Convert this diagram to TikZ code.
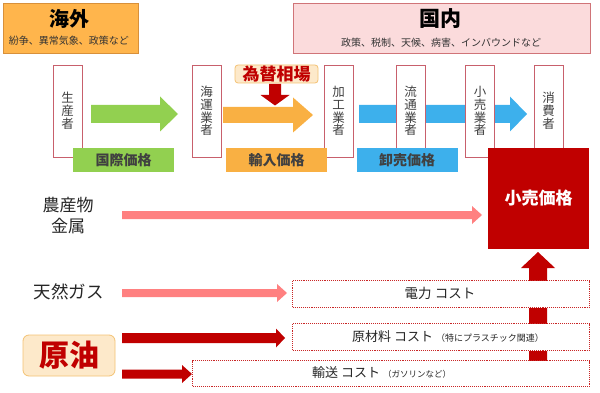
\documentclass[tikz,border=0pt]{standalone}
\usepackage{fontspec}
\setmainfont{Noto Sans CJK JP}
\definecolor{hdorange}{HTML}{FFB54C}
\definecolor{hdorangeb}{HTML}{D8903A}
\definecolor{hdpink}{HTML}{FBDBDC}
\definecolor{hdpinkb}{HTML}{D07478}
\definecolor{agreen}{HTML}{92D050}
\definecolor{aorange}{HTML}{F9B043}
\definecolor{ablue}{HTML}{3DB0EC}
\definecolor{dred}{HTML}{C00000}
\definecolor{apink}{HTML}{FF8080}
\definecolor{cream}{HTML}{FDE9CA}
\definecolor{creamb}{HTML}{F3C273}
\definecolor{actb}{HTML}{C8606C}
\definecolor{txt}{HTML}{404040}
\newcommand{\harr}[7]{\fill[#1] (#2,#4-#5) -- (#3-#7,#4-#5) -- (#3-#7,#4-#6) -- (#3,#4) -- (#3-#7,#4+#6) -- (#3-#7,#4+#5) -- (#2,#4+#5) -- cycle;}
\tikzset{
  actor/.style={draw=actb, line width=0.8pt, fill=white, minimum width=29pt, minimum height=92pt, inner sep=0pt, text=txt, font=\fontsize{12.5}{12.8}\selectfont, align=center},
  pricelabel/.style={minimum width=101pt, minimum height=24pt, inner sep=0pt, text=txt, font=\fontsize{14}{14}\selectfont\bfseries},
  costbox/.style={draw=dred!85, densely dotted, line width=1.1pt, fill=white, minimum height=27pt, inner sep=0pt, anchor=north west},
  costtxt/.style={text=black!85, font=\fontsize{13}{13}\selectfont, inner sep=0pt},
  lefttxt/.style={text=black!85, font=\fontsize{17}{21.5}\selectfont, align=center, inner sep=0pt}
}
\begin{document}
\begin{tikzpicture}[x=1pt,y=-1pt]
\useasboundingbox (0,0) rectangle (600,393);
% header boxes
\node[draw=hdorangeb, fill=hdorange, line width=0.8pt, minimum width=135pt, minimum height=50pt, anchor=north west, inner sep=0pt] (kaigai) at (3,3) {};
\node[font=\fontsize{20}{20}\selectfont\bfseries, text=black] (kaigaiT) at (69,19) {海外};
\node[font=\fontsize{10}{10}\selectfont, text=black!80] (kaigaiS) at (69,40.5) {紛争、異常気象、政策など};
\node[draw=hdpinkb, fill=hdpink, line width=0.8pt, minimum width=297pt, minimum height=50pt, anchor=north west, inner sep=0pt] (kokunai) at (293,3) {};
\node[font=\fontsize{21}{21}\selectfont\bfseries, text=black] (kokunaiT) at (440,19) {国内};
\node[font=\fontsize{10}{10}\selectfont, text=black!80] (kokunaiS) at (441,42.5) {政策、税制、天候、病害、インバウンドなど};
% big arrows
\harr{agreen}{91}{178}{114}{9}{17.5}{18}
\harr{aorange}{223}{313}{115}{8}{17.5}{20}
\harr{ablue}{359}{527}{114}{9}{17.5}{17}
% actors
\node[actor] (seisan) at (67.5,111) {生\\産\\者};
\node[actor] (kaiun) at (206.5,111) {海\\運\\業\\者};
\node[actor] (kakou) at (338.5,111) {加\\工\\業\\者};
\node[actor] (ryutsu) at (410.5,111) {流\\通\\業\\者};
\node[actor] (kouri) at (480,111) {小\\売\\業\\者};
\node[actor] (shohi) at (548.5,111) {消\\費\\者};
% price labels
\node[pricelabel, fill=agreen] (kokusai) at (123.5,160) {国際価格};
\node[pricelabel, fill=aorange] (yunyu) at (276.5,160) {輸入価格};
\node[pricelabel, fill=ablue] (oroshi) at (407,160) {卸売価格};
% exchange rate
\node[draw=creamb, fill=cream, rounded corners=3pt, line width=0.8pt, minimum width=83pt, minimum height=18pt, inner sep=0pt, text=dred, font=\fontsize{17}{17}\selectfont\bfseries] (kawase) at (276.5,74) {為替相場};
\fill[dred] (269,84) -- (281,84) -- (281,95) -- (289.5,95) -- (275,105.5) -- (260.5,95) -- (269,95) -- cycle;
% retail price
\node[fill=dred, minimum width=101pt, minimum height=101pt, inner sep=0pt, anchor=north west] (kourikakaku) at (488,148) {};
\node[text=white, font=\fontsize{17}{17}\selectfont\bfseries] (kourikakakuT) at (538.5,198) {小売価格};
% up arrow
\fill[dred] (529,362) -- (529,268) -- (521,268) -- (538,252) -- (555,268) -- (547,268) -- (547,362) -- cycle;
% left texts
\node[lefttxt] (nousan) at (68,215.5) {農産物\\金属};
\node[lefttxt, font=\fontsize{17.5}{17.5}\selectfont] (tennen) at (69,292) {天然ガス};
\node[draw=creamb, fill=cream, rounded corners=6pt, line width=0.8pt, minimum width=92pt, minimum height=41pt, inner sep=0pt, text=dred, font=\fontsize{30}{30}\selectfont\bfseries] (genyu) at (69,355.5) {原油};
% thin arrows
\harr{apink}{122}{482}{215}{4}{9}{10}
\harr{apink}{122}{287}{293}{4}{9}{10}
\harr{dred}{122}{285}{338}{5}{9.5}{9}
\harr{dred}{122}{192}{374}{4.5}{9}{10}
% cost boxes
\node[costbox, minimum width=297pt] (denryoku) at (292,280) {};
\node[costtxt, font=\fontsize{13.5}{13.5}\selectfont] (denryokuT) at (440,293.5) {電力 コスト};
\node[costbox, minimum width=297pt] (genzairyo) at (292,323) {};
\node[costtxt, anchor=west] (genzairyoT) at (352,336.5) {原材料 コスト {\fontsize{9}{9}\selectfont（特にプラスチック関連）}};
\node[costbox, minimum width=397pt, minimum height=26pt] (yuso) at (192,360) {};
\node[costtxt, anchor=west] (yusoT) at (312,373) {輸送 コスト {\fontsize{8.5}{8.5}\selectfont（ガソリンなど）}};
\end{tikzpicture}
\end{document}
